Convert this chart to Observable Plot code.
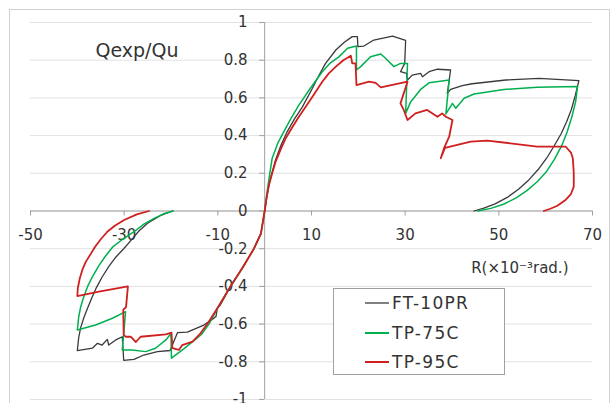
<!DOCTYPE html>
<html><head><meta charset="utf-8">
<script src="https://cdn.jsdelivr.net/npm/d3@7"></script>
<script src="https://cdn.jsdelivr.net/npm/@observablehq/plot@0.6"></script>
<style>
body{margin:0;background:#fff;}
#wrap{position:relative;width:611px;height:403px;overflow:hidden;font-family:"DejaVu Sans",sans-serif;color:#333;}
#wrap svg{position:absolute;left:0;top:0;}
#border{position:absolute;left:9px;top:9px;width:601px;height:420px;border:1px solid #d0d0d0;box-sizing:border-box;pointer-events:none;}
#legend{position:absolute;left:333px;top:288px;width:172px;height:87px;border:1px solid #a0a0a0;background:#fff;box-sizing:border-box;}
.lg-line{position:absolute;left:31px;width:24px;}
.lg-text{position:absolute;left:58px;font-size:17px;letter-spacing:1.3px;transform:translateY(-50%);white-space:nowrap;color:#333;line-height:1;}
</style></head>
<body>
<div id="wrap"><div id="border"></div></div>
<script>
const xTicks = [-50, -30, -10, 10, 30, 50, 70];
const yTicks = [-1, -0.8, -0.6, -0.4, -0.2, 0, 0.2, 0.4, 0.6, 0.8, 1];
const yLabel = "Qexp/Qu";
const xLabel = "R(×10⁻³rad.)";
const seriesNames = ["FT-10PR", "TP-75C", "TP-95C"];
const seriesColors = ["#3a3a3a", "#00b050", "#d01f1f"];
const seriesWidths = [1.3, 1.5, 1.8];

const ftPoints = [[-19.7,0],[-22.3,-0.025],[-25,-0.065],[-26.8,-0.105],[-28.4,-0.152],[-30.1,-0.2],[-31.8,-0.245],[-33.3,-0.295],[-34.7,-0.35],[-35.9,-0.405],[-36.9,-0.46],[-37.8,-0.515],[-38.6,-0.565],[-39.3,-0.62],[-39.7,-0.67],[-40,-0.741],
[-36.8,-0.728],[-35.7,-0.702],[-34.7,-0.711],[-33.6,-0.681],[-33.3,-0.711],[-31.8,-0.684],[-30.4,-0.667],[-30.1,-0.792],[-27.9,-0.787],[-25.8,-0.764],[-22.9,-0.746],[-20.2,-0.74],[-18.6,-0.645],[-16.5,-0.643],[-13,-0.605],[-11.2,-0.575],[-10.4,-0.56],[-10.1,-0.515],[-9.5,-0.5],[-7.3,-0.4],[-4.7,-0.3],[-2.3,-0.2],[-0.8,-0.12],[0,0],
[0.5,0.08],[1,0.15],[2.3,0.27],[3.5,0.35],[4.8,0.42],[6.4,0.49],[8,0.55],[10.2,0.651],[11.6,0.72],[13,0.783],[15.2,0.854],[17,0.895],[18.7,0.925],[19.8,0.925],[19.9,0.872],[21.2,0.875],[23.3,0.907],[27.3,0.928],[30.1,0.905],[29.9,0.783],[29,0.739],[30.3,0.73],[30.5,0.695],[31.5,0.721],[33.3,0.73],[33.7,0.712],[35.1,0.739],[36.9,0.752],[39.7,0.748],[39,0.624],[39.7,0.645],[42.2,0.665],[44.3,0.675],[51.5,0.695],[58.6,0.704],[67.1,0.692],
[66.3,0.61],[65.5,0.54],[64.5,0.475],[63.3,0.41],[61.8,0.345],[60.2,0.28],[58.4,0.22],[56.4,0.165],[54.2,0.115],[51.8,0.072],[49.2,0.038],[46.8,0.015],[44.7,0]];

const tp75Points = [[-19.5,0],[-21.6,-0.015],[-23.6,-0.039],[-25.8,-0.07],[-27.9,-0.11],[-30.3,-0.15],[-32.5,-0.192],[-34,-0.24],[-35.4,-0.29],[-36.7,-0.345],[-37.8,-0.4],[-38.7,-0.46],[-39.3,-0.51],[-39.7,-0.56],[-40,-0.631],
[-36.1,-0.605],[-32.5,-0.569],[-29.7,-0.534],[-30.4,-0.737],[-28.3,-0.737],[-25.4,-0.746],[-23.3,-0.728],[-21.1,-0.684],[-20,-0.65],[-19.9,-0.781],[-17.2,-0.73],[-13.5,-0.655],[-11.9,-0.6],[-9.7,-0.5],[-7.3,-0.4],[-4.7,-0.3],[-2.3,-0.2],[-0.8,-0.12],[0,0],
[0.4,0.08],[0.8,0.15],[1.6,0.28],[2.8,0.36],[4.1,0.421],[5.6,0.49],[7.3,0.562],[9.5,0.642],[12.3,0.739],[14,0.785],[15.9,0.819],[17.7,0.863],[19.6,0.875],[19.6,0.748],[20.5,0.766],[22.6,0.818],[24.8,0.833],[25.8,0.81],[27.6,0.766],[29,0.783],[30.5,0.783],[30.1,0.518],[31.2,0.58],[33.3,0.645],[35.1,0.68],[39.4,0.695],[38.7,0.515],[40.1,0.571],[40.8,0.545],[42.6,0.598],[44.7,0.621],[51.1,0.645],[58.2,0.656],[66.8,0.66],
[66.4,0.58],[65.6,0.5],[64.6,0.42],[63.4,0.345],[61.9,0.275],[60.2,0.21],[58.2,0.155],[56,0.108],[53.6,0.068],[51,0.036],[48.3,0.014],[45.5,0]];

const tp95Points = [[-24.7,0],[-27.3,-0.018],[-30,-0.048],[-32,-0.078],[-33.6,-0.11],[-35,-0.15],[-36.2,-0.19],[-37.2,-0.23],[-38.2,-0.27],[-38.9,-0.31],[-39.5,-0.36],[-39.9,-0.41],[-40,-0.451],
[-35.4,-0.428],[-29.2,-0.4],[-29.6,-0.51],[-30.2,-0.525],[-30.1,-0.655],[-29.7,-0.667],[-28.6,-0.667],[-27.5,-0.695],[-26.5,-0.667],[-21.1,-0.655],[-19.9,-0.645],[-19.7,-0.728],[-18.3,-0.737],[-17.6,-0.711],[-15.4,-0.693],[-13.7,-0.649],[-12,-0.59],[-9.7,-0.5],[-7.3,-0.4],[-4.7,-0.3],[-2.3,-0.2],[-0.8,-0.12],[0,0],
[0.4,0.07],[0.92,0.138],[1.6,0.2],[2.35,0.262],[3.4,0.325],[4.5,0.386],[5.8,0.44],[7.3,0.5],[8.8,0.555],[10.2,0.606],[12.3,0.686],[13.7,0.73],[15.2,0.766],[16.8,0.8],[18.4,0.824],[18.7,0.783],[19.4,0.783],[19.6,0.668],[22.3,0.686],[23.7,0.68],[24.8,0.656],[30.5,0.686],[29,0.571],[29.7,0.536],[30.5,0.483],[32.2,0.518],[34.7,0.536],[36.9,0.5],[37.9,0.518],[38.7,0.5],[40.1,0.483],[39.4,0.394],[38.3,0.333],[37.6,0.28],[38.5,0.335],[44,0.368],[47.5,0.373],[52.5,0.359],[58.2,0.341],[64.3,0.341],
[65.4,0.31],[65.8,0.28],[66,0.2],[66,0.129],[65.4,0.09],[64.3,0.06],[62.5,0.028],[61,0.012],[59.6,0]];

const allPoints = [ftPoints, tp75Points, tp95Points];
const fmt = d => d === 0 ? "0" : String(+d.toFixed(1));
const axisColor = "#a0a0a0";

const lineMarks = allPoints.map((pts, i) =>
  Plot.line(pts.map(([x, y]) => ({x, y, name: seriesNames[i]})),
    {x: "x", y: "y", stroke: seriesColors[i], strokeWidth: seriesWidths[i], curve: "linear", strokeLinejoin: "round"}));

const plot = Plot.plot({
  width: 611, height: 403,
  marginLeft: 30, marginRight: 19, marginTop: 22, marginBottom: 4,
  x: {domain: [-50, 70], axis: null},
  y: {domain: [-1, 1], axis: null},
  style: {fontFamily: "DejaVu Sans, sans-serif", background: "transparent", color: "#333"},
  marks: [
    Plot.ruleY(yTicks, {stroke: "#e2e2e2", strokeWidth: 1}),
    Plot.ruleX([0], {y1: -1, y2: 1, stroke: axisColor}),
    Plot.ruleY([0], {stroke: axisColor}),
    Plot.ruleY(yTicks, {x1: 0, x2: 0, insetLeft: -5, stroke: axisColor}),
    Plot.ruleX(xTicks, {y1: 0, y2: 0, insetBottom: -5, stroke: axisColor}),
    Plot.text(yTicks, {x: 0, y: d => d, text: fmt, textAnchor: "end", dx: -17, fontSize: 15, fill: "#333"}),
    Plot.text(xTicks, {x: d => d, y: 0, dy: 24, text: d => String(d), fontSize: 15, fill: "#333"}),
    ...lineMarks,
    Plot.text([yLabel], {frameAnchor: "top-left", dx: 65, dy: 21, textAnchor: "start", fontSize: 19, fill: "#333"}),
    Plot.text([xLabel], {frameAnchor: "top-right", dx: -24, dy: 240, textAnchor: "end", fontSize: 15, fill: "#333"})
  ]
});
const wrap = document.getElementById("wrap");
wrap.insertBefore(plot, wrap.firstChild);

const legend = document.createElement("div");
legend.id = "legend";
const rowY = [14, 44, 73];
seriesNames.forEach((name, i) => {
  const ln = document.createElement("div");
  ln.className = "lg-line";
  const w = i === 1 ? 1.5 : 2.2;
  ln.style.top = (rowY[i] - w / 2) + "px";
  ln.style.height = w + "px";
  ln.style.background = i === 0 ? "#808080" : seriesColors[i];
  const tx = document.createElement("div");
  tx.className = "lg-text";
  tx.style.top = rowY[i] + "px";
  tx.textContent = name;
  legend.appendChild(ln);
  legend.appendChild(tx);
});
wrap.appendChild(legend);
</script>
</body></html>
